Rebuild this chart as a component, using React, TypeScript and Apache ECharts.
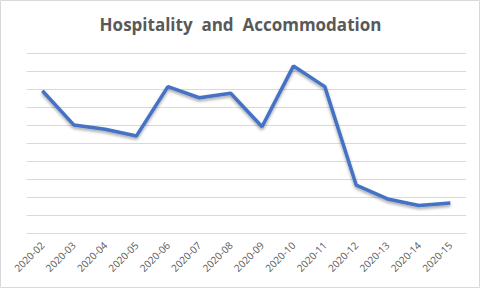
import React, { useEffect, useRef } from "react";
import * as echarts from "echarts";

const categories = ["2020-02", "2020-03", "2020-04", "2020-05", "2020-06", "2020-07", "2020-08", "2020-09", "2020-10", "2020-11", "2020-12", "2020-13", "2020-14", "2020-15"];
const values = [7.92, 6.02, 5.78, 5.41, 8.15, 7.53, 7.78, 5.92, 9.29, 8.15, 2.68, 1.91, 1.54, 1.68];

export default function App() {
  const ref = useRef<HTMLDivElement>(null);
  useEffect(() => {
    const chart = echarts.init(ref.current!, null, { renderer: "svg" });
    chart.setOption({
      animation: false,
      backgroundColor: "#ffffff",
      title: {
        text: "Hospitality  and  Accommodation",
        left: "center",
        top: 11,
        textStyle: { fontFamily: "Open Sans", fontWeight: "bold", fontSize: 17, color: "#595959" },
      },
      graphic: [
        { type: "rect", shape: { x: 0.5, y: 0.5, width: 479, height: 287 }, style: { fill: "none", stroke: "#d9d9d9", lineWidth: 1 }, silent: true },
      ],
      grid: { left: 26.7, right: 15, top: 53.3, bottom: 55.7 },
      xAxis: {
        type: "category",
        data: categories,
        boundaryGap: true,
        axisLine: { lineStyle: { color: "#d9d9d9" } },
        axisTick: { show: false },
        axisLabel: { rotate: 45, color: "#595959", fontSize: 10, fontFamily: "Open Sans", margin: 10, interval: 0 },
      },
      yAxis: {
        type: "value",
        min: 0,
        max: 10,
        interval: 1,
        axisLabel: { show: false },
        axisLine: { show: false },
        axisTick: { show: false },
        splitLine: { lineStyle: { color: "#d9d9d9" } },
      },
      series: [
        {
          type: "line",
          data: values,
          symbol: "none",
          lineStyle: { color: "#4472C4", width: 3.5, shadowColor: "rgba(0,0,0,0.35)", shadowBlur: 3, shadowOffsetY: 2 },
        },
      ],
    });
    return () => chart.dispose();
  }, []);
  return <div ref={ref} style={{ position: "fixed", left: 0, top: 0, width: 481, height: 289 }} />;
}
